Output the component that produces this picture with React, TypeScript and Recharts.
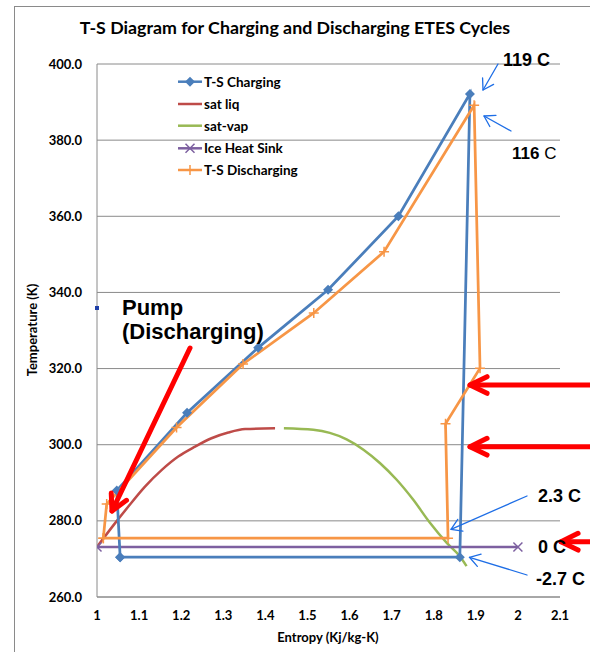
import React from "react";
import { LineChart, Line, XAxis, YAxis, CartesianGrid } from "recharts";

const entropyTicks = [1, 1.1, 1.2, 1.3, 1.4, 1.5, 1.6, 1.7, 1.8, 1.9, 2, 2.1];
const tempTicks = [260, 280, 300, 320, 340, 360, 380, 400];

// charging cycle, entropy (Kj/kg-K) vs temperature (K)
const chargingS = [1.055, 1.047, 1.214, 1.383, 1.549, 1.716, 1.886, 1.862, 1.055];
const chargingT = [270.45, 288.0, 308.4, 325.5, 340.7, 360.0, 392.15, 270.45, 270.45];

// discharging cycle
const dischargingS = [1.015, 1.023, 1.189, 1.347, 1.515, 1.682, 1.896, 1.91, 1.828, 1.834, 1.015];
const dischargingT = [275.45, 284.4, 304.5, 321.2, 334.6, 350.7, 389.15, 320.1, 305.5, 275.45, 275.45];

// saturation dome
const satLiqS = [1.0, 1.043, 1.074, 1.114, 1.154, 1.193, 1.233, 1.272, 1.312, 1.352, 1.423];
const satLiqT = [273.15, 279.4, 283.7, 289.0, 293.4, 296.9, 299.5, 301.7, 303.2, 304.1, 304.3];
const satVapS = [1.444, 1.514, 1.553, 1.593, 1.633, 1.672, 1.712, 1.751, 1.791, 1.831, 1.862, 1.878];
const satVapT = [304.3, 303.9, 303.1, 301.4, 298.7, 295.2, 290.8, 285.6, 279.5, 274.2, 270.7, 268.1];

const iceS = [1, 2];
const iceT = [273.15, 273.15];

const legendNames = ["T-S Charging", "sat liq", "sat-vap", "Ice Heat Sink", "T-S Discharging"];

const BLUE = "#4a7ebb";
const RED = "#be4b48";
const GREEN = "#98b954";
const PURPLE = "#7d60a0";
const ORANGE = "#f79646";
const GRID = "#8a8a8a";
const FONT = "Lato, 'Liberation Sans', sans-serif";
const ARIAL = "'Liberation Sans', Arial, sans-serif";

const zip = (s: number[], t: number[]) => s.map((v, i) => ({ s: v, t: t[i] }));

const DiamondDot = (p: any) => {
  const { cx, cy, index } = p;
  if (cx == null || cy == null) return <g key={`dm${index}`} />;
  return (
    <path
      key={`dm${index}`}
      d={`M${cx},${cy - 5} L${cx + 5},${cy} L${cx},${cy + 5} L${cx - 5},${cy} Z`}
      fill={BLUE}
    />
  );
};

const PlusDot = (p: any) => {
  const { cx, cy, index } = p;
  if (cx == null || cy == null) return <g key={`pl${index}`} />;
  return (
    <path
      key={`pl${index}`}
      d={`M${cx - 5},${cy} H${cx + 5} M${cx},${cy - 5} V${cy + 5}`}
      stroke={ORANGE}
      strokeWidth={1.5}
    />
  );
};

const CrossDot = (p: any) => {
  const { cx, cy, index } = p;
  if (cx == null || cy == null) return <g key={`cr${index}`} />;
  return (
    <path
      key={`cr${index}`}
      d={`M${cx - 4.5},${cy - 4.5} L${cx + 4.5},${cy + 4.5} M${cx - 4.5},${cy + 4.5} L${cx + 4.5},${cy - 4.5}`}
      stroke={PURPLE}
      strokeWidth={1.5}
    />
  );
};

function Arrow({ x1, y1, x2, y2, color, width, head, angle }: any) {
  const a = Math.atan2(y1 - y2, x1 - x2);
  const r = (angle * Math.PI) / 180;
  const w1 = `${x2 + head * Math.cos(a + r)},${y2 + head * Math.sin(a + r)}`;
  const w2 = `${x2 + head * Math.cos(a - r)},${y2 + head * Math.sin(a - r)}`;
  return (
    <g stroke={color} strokeWidth={width} fill="none" strokeLinecap="round" strokeLinejoin="round">
      <line x1={x1} y1={y1} x2={x2} y2={y2} />
      <polyline points={`${w1} ${x2},${y2} ${w2}`} />
    </g>
  );
}

function LegendRow({ y, color, name, marker }: any) {
  return (
    <g>
      <line x1={178} y1={y} x2={202} y2={y} stroke={color} strokeWidth={2.5} />
      {marker === "diamond" && <path d={`M190,${y - 5} L195,${y} L190,${y + 5} L185,${y} Z`} fill={color} />}
      {marker === "plus" && <path d={`M185,${y} H195 M190,${y - 5} V${y + 5}`} stroke={color} strokeWidth={1.5} />}
      {marker === "cross" && (
        <path d={`M185.5,${y - 4.5} L194.5,${y + 4.5} M185.5,${y + 4.5} L194.5,${y - 4.5}`} stroke={color} strokeWidth={1.5} />
      )}
      <text x={204} y={y} dominantBaseline="central" fontSize={13.5} fontWeight={700} fontFamily={FONT} fill="#000">
        {name}
      </text>
    </g>
  );
}

export default function App() {
  const tickStyle = { fill: "#000", fontSize: 13, fontWeight: 700, fontFamily: FONT };
  const legendY = [81.7, 104, 125.7, 148.3, 170];
  const legendColors = [BLUE, RED, GREEN, PURPLE, ORANGE];
  const legendMarkers = ["diamond", "", "", "cross", "plus"];

  return (
    <div style={{ position: "absolute", left: 0, top: 0, width: 590, height: 652, overflow: "hidden", background: "#fff" }}>
      <div style={{ position: "absolute", left: 0, top: 0 }}>
        <LineChart width={590} height={652} margin={{ top: 64, right: 30, bottom: 25, left: 0 }}>
          <CartesianGrid vertical={false} stroke={GRID} strokeWidth={1} />
          <XAxis
            dataKey="s"
            type="number"
            domain={[1, 2.1]}
            ticks={entropyTicks}
            tickFormatter={(v: number) => String(v)}
            tick={tickStyle}
            tickLine={false}
            tickSize={0}
            tickMargin={14}
            height={30}
            axisLine={{ stroke: GRID }}
            allowDataOverflow
          />
          <YAxis
            dataKey="t"
            type="number"
            domain={[260, 400]}
            ticks={tempTicks}
            tickFormatter={(v: number) => v.toFixed(1)}
            tick={tickStyle}
            tickLine={false}
            tickSize={0}
            tickMargin={15}
            width={97}
            axisLine={{ stroke: GRID }}
            allowDataOverflow
          />
          <Line data={zip(satLiqS, satLiqT)} dataKey="t" type="monotone" stroke={RED} strokeWidth={2.5} dot={false} activeDot={false} isAnimationActive={false} />
          <Line data={zip(satVapS, satVapT)} dataKey="t" type="monotone" stroke={GREEN} strokeWidth={2.5} dot={false} activeDot={false} isAnimationActive={false} />
          <Line data={zip(iceS, iceT)} dataKey="t" type="linear" stroke={PURPLE} strokeWidth={2.5} dot={CrossDot} activeDot={false} isAnimationActive={false} />
          <Line data={zip(chargingS, chargingT)} dataKey="t" type="linear" stroke={BLUE} strokeWidth={2.75} dot={DiamondDot} activeDot={false} isAnimationActive={false} />
          <Line data={zip(dischargingS, dischargingT)} dataKey="t" type="linear" stroke={ORANGE} strokeWidth={2.75} dot={PlusDot} activeDot={false} isAnimationActive={false} />
        </LineChart>
      </div>
      <svg width={590} height={652} style={{ position: "absolute", left: 0, top: 0, pointerEvents: "none" }}>
        <rect x={14.5} y={6.5} width={620} height={700} fill="none" stroke="#8a8a8a" strokeWidth={1} />
        <text x={295} y={34} textAnchor="middle" fontSize={17.8} fontWeight={700} fontFamily={FONT} fill="#000">
          T-S Diagram for Charging and Discharging ETES Cycles
        </text>
        <text x={328} y={642} textAnchor="middle" fontSize={13} fontWeight={700} fontFamily={FONT} fill="#000">
          Entropy (Kj/kg-K)
        </text>
        <text
          transform="translate(37,330) rotate(-90)"
          textAnchor="middle"
          fontSize={13}
          fontWeight={700}
          fontFamily={FONT}
          fill="#000"
        >
          Temperature (K)
        </text>

        {legendNames.map((n, i) => (
          <LegendRow key={n} y={legendY[i]} color={legendColors[i]} name={n} marker={legendMarkers[i]} />
        ))}

        <rect x={95} y={306} width={4} height={4} fill="#1f3fa8" />

        <text x={122} y={315} fontSize={22} fontWeight={700} fontFamily={ARIAL} fill="#000">Pump</text>
        <text x={122} y={339} fontSize={22} fontWeight={700} fontFamily={ARIAL} fill="#000">(Discharging)</text>
        <Arrow x1={190} y1={348} x2={112} y2={511} color="#ff0000" width={5} head={18} angle={28} />

        <Arrow x1={600} y1={385} x2={470} y2={385} color="#ff0000" width={5} head={19} angle={26} />
        <Arrow x1={600} y1={446.7} x2={470} y2={446.7} color="#ff0000" width={5} head={19} angle={26} />
        <Arrow x1={600} y1={541.7} x2={561} y2={541.7} color="#ff0000" width={5} head={19} angle={26} />

        <Arrow x1={498} y1={64} x2={483} y2={90} color="#1e6ee6" width={1.3} head={12} angle={32} />
        <Arrow x1={511} y1={131} x2={484} y2={116} color="#1e6ee6" width={1.3} head={12} angle={32} />
        <Arrow x1={527} y1={496} x2={451} y2={529.3} color="#1e6ee6" width={1.3} head={12} angle={32} />
        <Arrow x1={527} y1={575} x2={469.5} y2={557.3} color="#1e6ee6" width={1.3} head={12} angle={32} />

        <text x={503} y={66} fontSize={18} fontWeight={700} fontFamily={ARIAL} fill="#000">119 C</text>
        <text x={512} y={159.3} fontSize={17} fontFamily={ARIAL} fill="#000">
          <tspan fontWeight={700}>116</tspan> C
        </text>
        <text x={538} y={502} fontSize={18} fontWeight={700} fontFamily={ARIAL} fill="#000">2.3 C</text>
        <text x={538} y={553} fontSize={18} fontWeight={700} fontFamily={ARIAL} fill="#000">0 C</text>
        <text x={536} y={585} fontSize={18} fontWeight={700} fontFamily={ARIAL} fill="#000">-2.7 C</text>
      </svg>
    </div>
  );
}
